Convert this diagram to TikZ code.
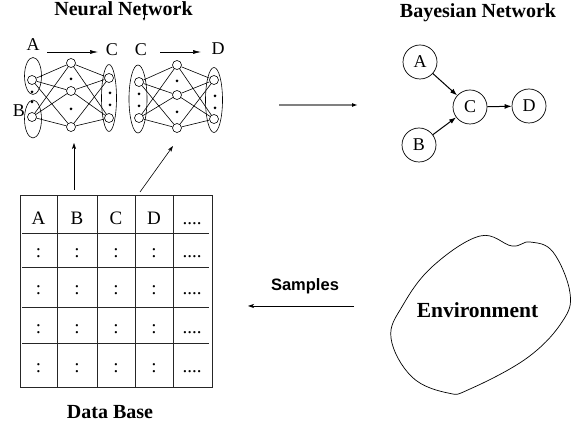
\documentclass[tikz,border=0pt]{standalone}
\usepackage{fontspec}
\setmainfont{Liberation Serif}
\newfontfamily\helv{Liberation Sans}
\usetikzlibrary{shapes.geometric,arrows.meta}

\begin{document}
\begin{tikzpicture}[x=1pt,y=-1pt,
  neuron/.style={circle,draw,inner sep=0pt,minimum size=9pt,line width=0.6pt},
  grp/.style={ellipse,draw,inner sep=0pt,line width=0.6pt},
  syn/.style={line width=0.6pt},
  pt/.style={circle,fill,inner sep=0pt,minimum size=3pt},
  heading/.style={font=\fontsize{20}{24}\selectfont\bfseries,anchor=base},
  lbl/.style={font=\fontsize{18}{22}\selectfont,anchor=base},
  cell/.style={font=\fontsize{19}{23}\selectfont,anchor=base},
  bnode/.style={circle,draw,minimum size=34pt,inner sep=0pt,line width=0.7pt,font=\fontsize{18}{21}\selectfont},
  barrow/.style={line width=1pt,-{Latex[length=7pt,width=5pt]}},
  flow/.style={line width=0.6pt,-{Latex[length=8pt,width=4pt]}},
  feed/.style={line width=0.6pt,-{Stealth[length=6pt,width=4pt,inset=1.5pt]}},
  grid/.style={line width=1pt,black!85}
]
\useasboundingbox (0,0) rectangle (579,430);

% ---------- titles ----------
\node[heading] (ttlnn) at (123.5,16) {Neural Network};
\node[heading] (ttlbn) at (478,18) {Bayesian Network};
\node[heading] (ttldb) at (110,419) {Data Base};
\draw[line width=0.5pt,-{Latex[length=3pt,width=2.5pt]}] (144,12) -- (144,21);

% ---------- first network: A,B -> C ----------
\node[grp,minimum width=17pt,minimum height=37pt] (ga) at (33,76) {};
\node[grp,minimum width=17pt,minimum height=38pt] (gb) at (33,119) {};
\node[grp,minimum width=15pt,minimum height=67pt] (gc) at (109,98) {};
\node[neuron] (i1) at (32,80) {};
\node[neuron] (i2) at (32,117) {};
\node[neuron] (h1) at (71,63) {};
\node[neuron] (h2) at (71,91) {};
\node[neuron] (h3) at (71,127) {};
\node[neuron] (o1) at (109,78) {};
\node[neuron] (o2) at (109,118) {};
\node[pt] (d1) at (32,92) {};
\node[pt] (d2) at (32,102) {};
\node[pt] (d3) at (71,79) {};
\node[pt] (d4) at (71,109) {};
\node[pt] (d5) at (110,93) {};
\node[pt] (d6) at (110,105) {};
\foreach \i in {i1,i2} \foreach \h in {h1,h2,h3} \draw[syn] (\i) -- (\h);
\foreach \h in {h1,h2,h3} \foreach \o in {o1,o2} \draw[syn] (\h) -- (\o);
\node[lbl] (la) at (33,51) {A};
\node[lbl] (lb) at (19,117) {B};
\node[lbl] (lc) at (112,56) {C};
\coordinate (ab0) at (47,52);
\coordinate (ab1) at (98,52);
\draw[flow] (ab0) -- (ab1);

% ---------- second network: C -> D ----------
\node[grp,minimum width=18pt,minimum height=68pt] (gc2) at (138,99) {};
\node[grp,minimum width=17pt,minimum height=65pt] (gd) at (214,100) {};
\node[neuron] (j1) at (139,82) {};
\node[neuron] (j2) at (139,118) {};
\node[neuron] (k1) at (177,65) {};
\node[neuron] (k2) at (177,95) {};
\node[neuron] (k3) at (177,128) {};
\node[neuron] (p1) at (214,80) {};
\node[neuron] (p2) at (214,119) {};
\node[pt] (e1) at (139,94) {};
\node[pt] (e2) at (139,106) {};
\node[pt] (e3) at (177,81) {};
\node[pt] (e4) at (177,112) {};
\node[pt] (e5) at (215,96) {};
\node[pt] (e6) at (215,108) {};
\foreach \i in {j1,j2} \foreach \h in {k1,k2,k3} \draw[syn] (\i) -- (\h);
\foreach \h in {k1,k2,k3} \foreach \o in {p1,p2} \draw[syn] (\h) -- (\o);
\node[lbl] (lc2) at (141,56) {C};
\node[lbl] (ld) at (218,55) {D};
\coordinate (cd0) at (160,52);
\coordinate (cd1) at (201,52);
\draw[flow] (cd0) -- (cd1);

% ---------- network to Bayesian network ----------
\coordinate (nn2bn0) at (279,105);
\coordinate (nn2bn1) at (358,105);
\draw[line width=1.2pt,gray,-{Latex[length=6pt,width=4pt,black]}] (nn2bn0) -- (nn2bn1);

% ---------- Bayesian network ----------
\node[bnode] (A) at (420,62) {A};
\node[bnode] (B) at (419,145) {B};
\node[bnode] (C) at (470,107) {C};
\node[bnode] (D) at (529,106) {D};
\draw[barrow] (A) -- (C);
\draw[barrow] (B) -- (C);
\draw[barrow] (C) -- (D);

% ---------- data base table ----------
\draw[grid] (20,196) rectangle (212,388);
\foreach \x in {57,97,135,173} \draw[grid] (\x,196) -- (\x,388);
\foreach \y in {234,268,308,344} \draw[grid] (22,\y) -- (209,\y);
\foreach \c/\t in {38.5/A,77/B,116/C,154/D} \node[cell] at (\c,225) {\t};
\node[cell] at (192,225) {....};
\foreach \r in {258,295,334,373} {
  \foreach \c in {38.5,77,116,154} \node[cell] at (\c,\r) {:};
  \node[cell] at (192,\r) {....};
}
\coordinate (db1) at (74,190);
\coordinate (nn1) at (74,143);
\coordinate (db2) at (140,192);
\coordinate (nn2) at (173,146);
\draw[feed] (db1) -- (nn1);
\draw[feed] (db2) -- (nn2);

% ---------- environment ----------
\draw[line width=0.7pt] plot[smooth cycle,tension=0.65] coordinates {
  (480,236) (512,246) (530,242) (553,252) (570,293) (562,322)
  (527,358) (470,389) (448,393) (412,377) (391,338) (403,305) (433,266)};
\node[font=\fontsize{21.5}{26}\selectfont\bfseries,anchor=base] (env) at (477.5,318) {Environment};

% ---------- samples ----------
\coordinate (s0) at (354,306);
\coordinate (s1) at (248,306);
\draw[feed] (s0) -- (s1);
\node[font=\helv\fontsize{16.5}{20}\selectfont\bfseries,anchor=base] (smp) at (305,291) {Samples};
\end{tikzpicture}
\end{document}
